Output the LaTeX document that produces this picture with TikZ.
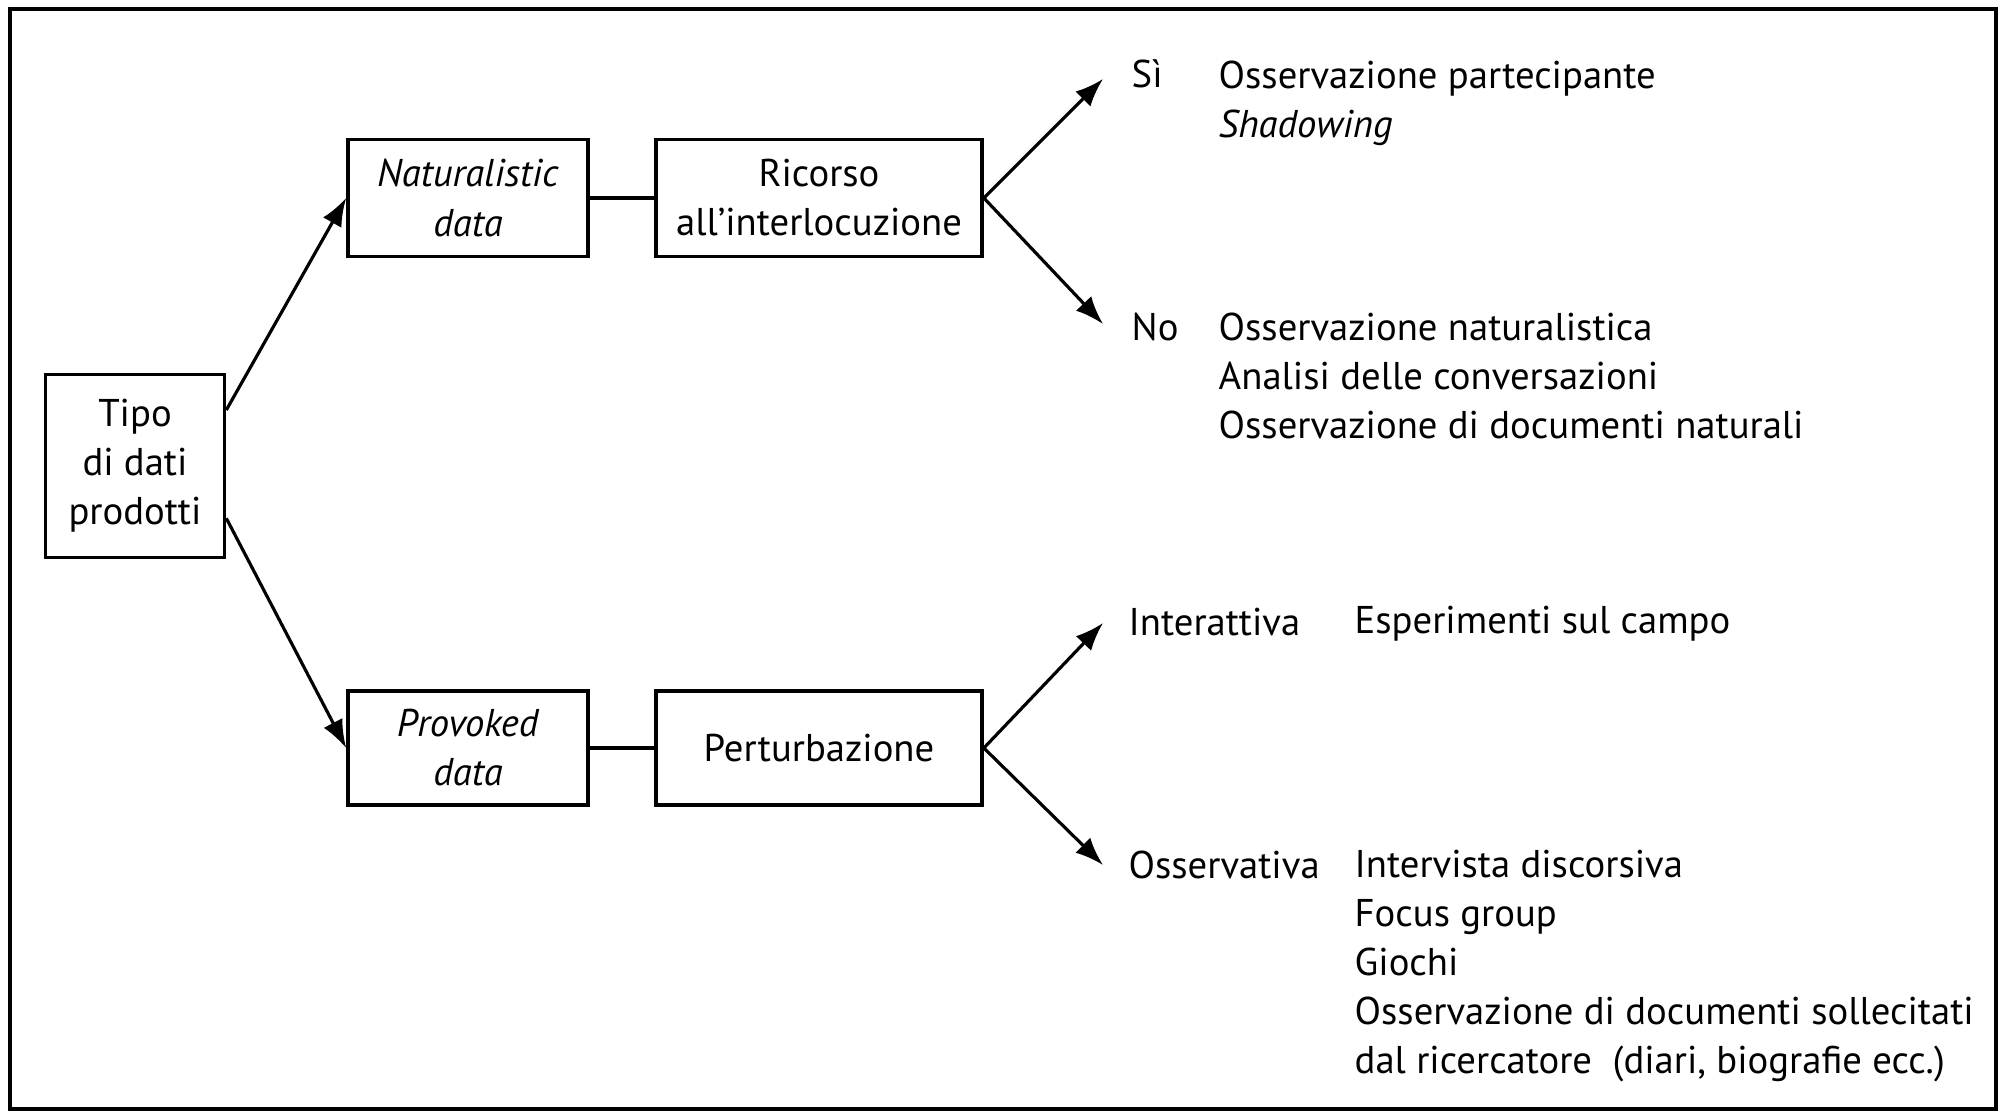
\documentclass[tikz,border=0pt]{standalone}
\usepackage{fontspec}
\setmainfont{PT Sans}
\usetikzlibrary{arrows.meta,calc}

\begin{document}
\begin{tikzpicture}[x=0.01cm,y=-0.01cm,
    box/.style={draw,line width=1pt,align=center,inner sep=2pt,font=\fontsize{11}{13.95}\selectfont},
    arr/.style={line width=0.9pt,-{Latex[length=8pt,width=6pt]}},
    voce/.style={anchor=west,align=left,inner sep=0pt,font=\fontsize{11}{13.95}\selectfont}]
    \useasboundingbox (0,0) rectangle (2006,1113);
    % cornice
    \draw[line width=1.1pt] (10,9) rectangle (1996,1109);

    % riquadri
    \node[box,minimum width=1.79cm,minimum height=1.83cm] (tipo) at (135,466) {Tipo\\di dati\\prodotti};
    \node[box,minimum width=2.4cm,minimum height=1.17cm] (nat) at (468,198) {\textit{Naturalistic}\\\textit{data}};
    \node[box,minimum width=3.26cm,minimum height=1.17cm] (ric) at (819,198) {Ricorso\\all'interlocuzione};
    \node[box,minimum width=2.4cm,minimum height=1.14cm] (prov) at (468,748) {\textit{Provoked}\\\textit{data}};
    \node[box,minimum width=3.26cm,minimum height=1.14cm] (pert) at (819,748) {Perturbazione};

    % punte delle frecce
    \coordinate (psi) at (1103,79);
    \coordinate (pno) at (1103,324);
    \coordinate (pint) at (1103,623);
    \coordinate (poss) at (1103,865);

    % collegamenti
    \draw[arr] ($(tipo.north east)!0.2!(tipo.south east)$) -- (nat.west);
    \draw[arr] ($(tipo.north east)!0.78!(tipo.south east)$) -- (prov.west);
    \draw[line width=0.9pt] (nat.east) -- (ric.west);
    \draw[line width=0.9pt] (prov.east) -- (pert.west);
    \draw[arr] (ric.east) -- (psi);
    \draw[arr] (ric.east) -- (pno);
    \draw[arr] (pert.east) -- (pint);
    \draw[arr] (pert.east) -- (poss);

    % etichette e tecniche
    \node[voce] (lsi) at (1131,74) {Sì};
    \node[voce] (partec) at (1218,103) {Osservazione partecipante\\\textit{Shadowing}};
    \node[voce] (lno) at (1131,327) {No};
    \node[voce] (natur) at (1218,376) {Osservazione naturalistica\\Analisi delle conversazioni\\Osservazione di documenti naturali};
    \node[voce] (lint) at (1128,622) {Interattiva};
    \node[voce] (esper) at (1354,624) {Esperimenti sul campo};
    \node[voce] (loss) at (1128,865) {Osservativa};
    \node[voce] (interv) at (1354,966) {Intervista discorsiva\\Focus group\\Giochi\\Osservazione di documenti sollecitati\\dal ricercatore\ \ (diari, biografie ecc.)};
\end{tikzpicture}
\end{document}
